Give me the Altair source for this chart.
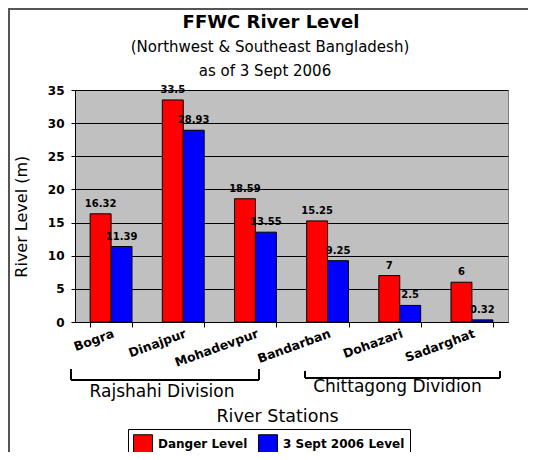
import altair as alt
import pandas as pd

# ---- data ----
stations = ["Bogra", "Dinajpur", "Mohadevpur", "Bandarban", "Dohazari", "Sadarghat"]
danger_level = [16.32, 33.5, 18.59, 15.25, 7, 6]
sept3_level = [11.39, 28.93, 13.55, 9.25, 2.5, 0.32]
danger_labels = ["16.32", "33.5", "18.59", "15.25", "7", "6"]
sept3_labels = ["11.39", "28.93", "13.55", "9.25", "2.5", "0.32"]
series_names = ["Danger Level", "3 Sept 2006 Level"]
series_colors = ["#FF0000", "#0000FF"]
y_ticks = [0, 5, 10, 15, 20, 25, 30, 35]

rows = []
for i, s in enumerate(stations):
    rows.append(dict(station=s, series=series_names[0], level=danger_level[i], label=danger_labels[i]))
    rows.append(dict(station=s, series=series_names[1], level=sept3_level[i], label=sept3_labels[i]))
df = pd.DataFrame(rows)

FONT = "DejaVu Sans"
W, H = 433, 232

x_enc = alt.X(
    "station:N", sort=stations,
    scale=alt.Scale(paddingInner=0.42, paddingOuter=0.21),
    axis=alt.Axis(title=None, labelAngle=340, labelAlign="right", labelBaseline="top",
                  labelFont=FONT, labelFontSize=12.5, labelFontWeight="bold", labelColor="black",
                  labelPadding=0, tickBand="extent", tickSize=5, tickColor="black",
                  domainColor="black", labelOverlap=False, labelLimit=0, grid=False),
)
xoff_enc = alt.XOffset("series:N", sort=series_names, scale=alt.Scale(paddingInner=0, paddingOuter=0))
y_enc = alt.Y(
    "level:Q", scale=alt.Scale(domain=[0, 35], nice=False),
    axis=alt.Axis(values=y_ticks, title=None, labelFont=FONT, labelFontSize=12, labelFontWeight="bold",
                  labelColor="black", tickSize=4, tickColor="black", labelPadding=7,
                  domainColor="black", grid=True, gridColor="black", gridOpacity=1, gridWidth=1),
)
color_enc = alt.Color(
    "series:N", sort=series_names,
    scale=alt.Scale(domain=series_names, range=series_colors),
    legend=alt.Legend(title=None, orient="none", legendX=53, legendY=339, direction="horizontal",
                      symbolType="square", symbolSize=361, symbolStrokeColor="black", symbolStrokeWidth=1,
                      symbolOpacity=1, labelFont=FONT, labelFontSize=12, labelFontWeight="bold",
                      labelColor="black", strokeColor="black", fillColor="white", padding=5,
                      columnPadding=8, labelOffset=5),
)

bars = alt.Chart(df).mark_bar(stroke="black", strokeWidth=1).encode(
    x=x_enc, xOffset=xoff_enc, y=y_enc, color=color_enc
)
vals = alt.Chart(df).mark_text(font=FONT, fontSize=10, fontWeight="bold", color="black",
                               baseline="alphabetic", dy=-7).encode(
    x=x_enc, xOffset=xoff_enc, y=y_enc, text="label:N"
)

one = pd.DataFrame({"k": [0]})


def txt(s, px, py, size, weight="normal", angle=0, baseline="alphabetic"):
    return alt.Chart(one).mark_text(font=FONT, fontSize=size, fontWeight=weight, color="black",
                                    align="center", baseline=baseline, angle=angle).encode(
        x=alt.value(px), y=alt.value(py), text=alt.value(s))


def seg(x1, y1, x2, y2, color="black", width=2):
    return alt.Chart(one).mark_rule(color=color, strokeWidth=width).encode(
        x=alt.value(x1), x2=alt.value(x2), y=alt.value(y1), y2=alt.value(y2))


annot = [
    txt("FFWC River Level", 196, -62, 18, "bold"),
    txt("(Northwest & Southeast Bangladesh)", 195, -38, 15),
    txt("as of 3 Sept 2006", 190, -14, 15),
    txt("River Level (m)", -53.5, 126.7, 16, angle=270, baseline="middle"),
    txt("Rajshahi Division", 87, 307, 17),
    txt("Chittagong Dividion", 322.5, 302, 17),
    txt("River Stations", 202.5, 332, 17.5),
    # brackets
    seg(-4, 279, -4, 290), seg(-4, 290, 184, 290), seg(184, 279, 184, 290),
    seg(230, 281, 230, 288), seg(230, 288, 425, 288), seg(425, 281, 425, 288),
    # outer frame (top and left edges)
    seg(-67, -81, 453, -81, color="#555555", width=2),
    seg(-66, -82, -66, 362, color="#555555", width=2),
]

chart = alt.layer(bars, vals, *annot).properties(
    width=W, height=H,
    autosize=alt.AutoSizeParams(type="none"),
    padding={"left": 67, "top": 82, "right": 20, "bottom": 130},
).configure_view(fill="#C0C0C0", stroke="#808080", strokeWidth=1)

chart.save("out.html", embed_options={"renderer": "svg", "actions": False})
